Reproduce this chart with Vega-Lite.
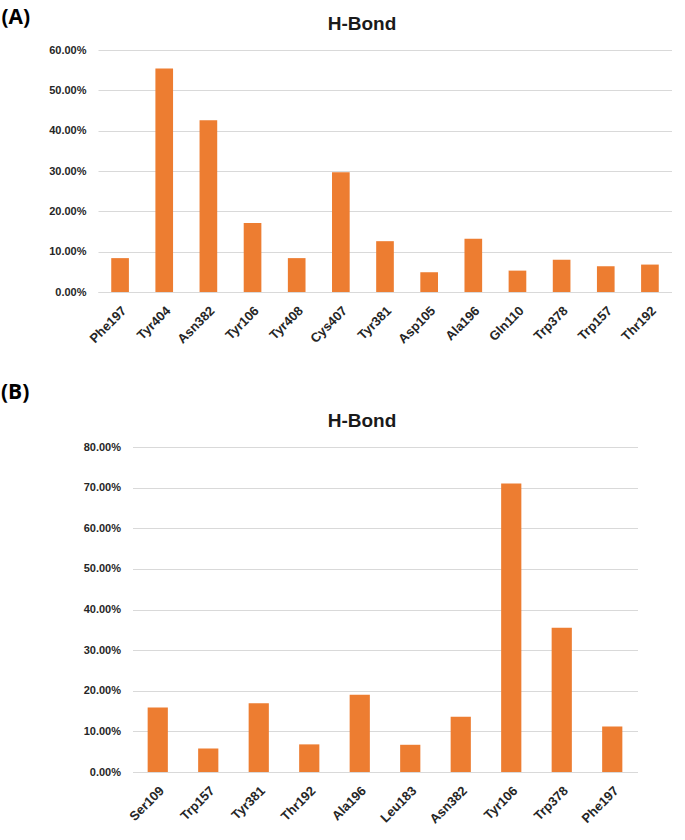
{
  "$schema": "https://vega.github.io/schema/vega-lite/v6.json",
  "padding": {"left": 0, "top": 6, "right": 0, "bottom": 0},
  "background": "white",
  "columns": 1,
  "center": true,
  "spacing": 35,
  "datasets": {
    "panelA": [
      {"residue": "Phe197", "occupancy": 0.084},
      {"residue": "Tyr404", "occupancy": 0.554},
      {"residue": "Asn382", "occupancy": 0.426},
      {"residue": "Tyr106", "occupancy": 0.171},
      {"residue": "Tyr408", "occupancy": 0.084},
      {"residue": "Cys407", "occupancy": 0.297},
      {"residue": "Tyr381", "occupancy": 0.126},
      {"residue": "Asp105", "occupancy": 0.049},
      {"residue": "Ala196", "occupancy": 0.132},
      {"residue": "Gln110", "occupancy": 0.053},
      {"residue": "Trp378", "occupancy": 0.080},
      {"residue": "Trp157", "occupancy": 0.064},
      {"residue": "Thr192", "occupancy": 0.068}
    ],
    "panelB": [
      {"residue": "Ser109", "occupancy": 0.159},
      {"residue": "Trp157", "occupancy": 0.058},
      {"residue": "Tyr381", "occupancy": 0.169},
      {"residue": "Thr192", "occupancy": 0.068},
      {"residue": "Ala196", "occupancy": 0.190},
      {"residue": "Leu183", "occupancy": 0.067},
      {"residue": "Asn382", "occupancy": 0.136},
      {"residue": "Tyr106", "occupancy": 0.710},
      {"residue": "Trp378", "occupancy": 0.355},
      {"residue": "Phe197", "occupancy": 0.112}
    ]
  },
  "config": {
    "view": {"stroke": null},
    "font": "Liberation Sans",
    "title": {
      "font": "Liberation Sans",
      "fontSize": 19,
      "fontWeight": "bold",
      "color": "#1a1a1a",
      "offset": 0
    },
    "axisX": {
      "domainColor": "#d9d9d9",
      "domainWidth": 1,
      "ticks": false,
      "grid": false,
      "labelAngle": -45,
      "labelFont": "Liberation Sans",
      "labelFontSize": 13,
      "labelFontWeight": "bold",
      "labelColor": "#262626",
      "labelPadding": 12
    },
    "axisY": {
      "domain": false,
      "ticks": false,
      "gridColor": "#d9d9d9",
      "gridWidth": 1,
      "labelFont": "Liberation Sans",
      "labelFontSize": 11,
      "labelFontWeight": "bold",
      "labelColor": "#262626",
      "labelPadding": 12,
      "titleFont": "Open Sans",
      "titleFontSize": 21,
      "titleFontWeight": "bold",
      "titleColor": "#000000",
      "titleAngle": 0,
      "titleAlign": "left",
      "titleBaseline": "top"
    }
  },
  "concat": [
    {
      "title": {"text": "H-Bond", "dx": -23, "dy": 32},
      "width": 574,
      "height": 242,
      "data": {"name": "panelA"},
      "mark": {"type": "bar", "color": "#ED7D31"},
      "encoding": {
        "x": {
          "field": "residue",
          "type": "nominal",
          "sort": null,
          "scale": {"paddingInner": 0.6, "paddingOuter": 0.3},
          "axis": {"title": null}
        },
        "y": {
          "field": "occupancy",
          "type": "quantitative",
          "scale": {"domain": [0, 0.6]},
          "axis": {
            "title": "(A)",
            "titleX": -97,
            "titleY": -44,
            "values": [0, 0.1, 0.2, 0.3, 0.4, 0.5, 0.6],
            "format": ".2%"
          }
        }
      }
    },
    {
      "title": {"text": "H-Bond", "dx": -23, "dy": 54},
      "width": 505,
      "height": 325,
      "data": {"name": "panelB"},
      "mark": {"type": "bar", "color": "#ED7D31"},
      "encoding": {
        "x": {
          "field": "residue",
          "type": "nominal",
          "sort": null,
          "scale": {"paddingInner": 0.6, "paddingOuter": 0.3},
          "axis": {"title": null}
        },
        "y": {
          "field": "occupancy",
          "type": "quantitative",
          "scale": {"domain": [0, 0.8]},
          "axis": {
            "title": "(B)",
            "titleX": -132,
            "titleY": -66,
            "values": [0, 0.1, 0.2, 0.3, 0.4, 0.5, 0.6, 0.7, 0.8],
            "format": ".2%"
          }
        }
      }
    }
  ]
}
